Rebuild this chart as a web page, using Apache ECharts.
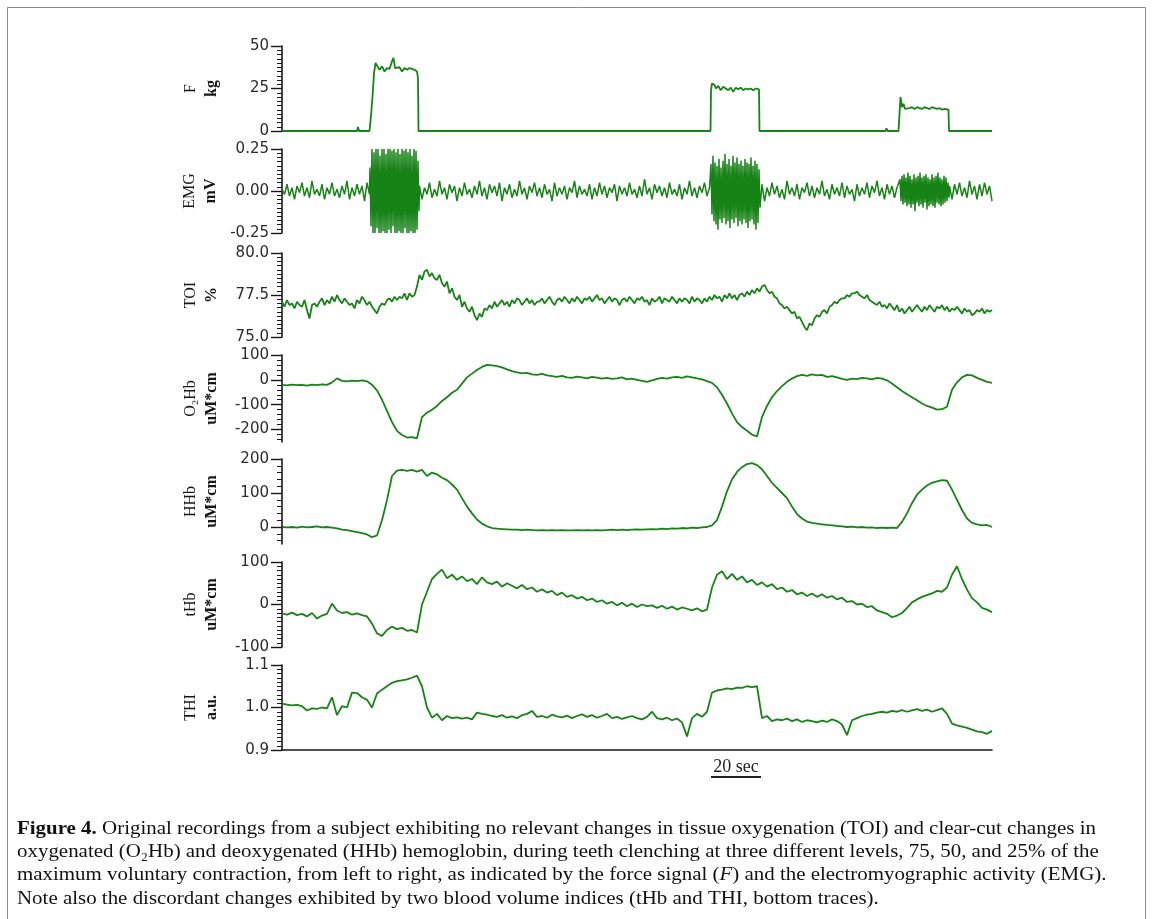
<!DOCTYPE html>
<html><head><meta charset="utf-8">
<script src="https://cdn.jsdelivr.net/npm/echarts@6/dist/echarts.min.js"></script>
<style>html,body{margin:0;padding:0;background:#fff}#c{width:1153px;height:919px}</style>
</head><body><div id="c"></div>
<script>
// ---------------- DATA ----------------
const xMax = 284; // seconds shown
const panelNames = ['F','EMG','TOI','O₂Hb','HHb','tHb','THI'];
const panelUnits = ['kg','mV','%','uM*cm','uM*cm','uM*cm','a.u.'];
const panelMins = [0,-0.25,75,-250,-50,-100,0.9];
const panelMaxs = [50,0.25,80,100,200,100,1.1];
const fTicks = [0,25,50];
const emgTicks = [-0.25,0,0.25];
const toiTicks = [75,77.5,80];
const o2hbTicks = [-200,-100,0,100];
const hhbTicks = [0,100,200];
const thbTicks = [-100,0,100];
const thiTicks = [0.9,1.0,1.1];
const tickDecimals = [0,2,1,0,0,0,1];
const minorSteps = [2.5,0.025,0.25,20,20,10,0.01];

// Force (kg): knot times (s) and values
const fTimes = [0,30.0,30.4,30.8,35.0,35.6,36.2,36.8,37.4,38.2,39,40,41,42,43,44,44.6,45.2,46,47,48,49,50,51,52,53,54.0,54.4,54.6,
  171.4,171.6,172,173,173.6,174.5,175.5,176.5,177.5,178.5,179.5,180.5,181.5,182.5,183.5,184.5,185.5,186.5,187.5,188.5,189.5,190.8,191.0,
  241.4,241.8,242.2,246.6,247.0,247.4,248,248.6,249.2,250,251,252,253,254,255,256,257,258,259,260,261,262,263,264,265,266.6,266.8,284];
const fValues = [0,0,2.4,0,0,9,20,34,40,39,36,38,35,37,36.5,41,43,37,36,37.5,35,37,36,37,36.5,36,35,31,0,
  0,24,28,27,25,26.5,24,26,25,24,25.5,23,25.5,24.5,25.5,24,25,24.5,25,24,25,24.5,0,
  0,1.5,0,0,10,20,14,16,13,14,13.5,14,13,14,13.5,13,14,13.5,13,14,13.5,13,13.5,12.5,13,12.5,0,0];

// EMG (mV): resting segments sampled every 1 s, bursts every 0.4 s
const emgRest1 = [0.01,-0.02,0.04,-0.03,0.02,-0.05,0.03,-0.01,0.05,-0.03,0.02,-0.04,0.06,-0.02,0.01,-0.03,0.04,-0.05,0.02,-0.02,
  0.05,-0.03,0.01,-0.04,0.03,-0.02,0.06,-0.05,0.02,-0.03,0.04,-0.02,0.03,-0.06,0.05,-0.02];
const emgBurst1 = [0.14,-0.21,0.25,-0.25,0.23,-0.25,0.25,-0.22,0.25,-0.25,0.21,-0.25,0.25,-0.24,0.25,-0.25,0.22,-0.25,0.25,-0.23,
  0.25,-0.25,0.24,-0.21,0.25,-0.25,0.23,-0.25,0.25,-0.24,0.22,-0.25,0.25,-0.25,0.24,-0.22,0.25,-0.25,0.23,-0.25,
  0.25,-0.24,0.21,-0.25,0.25,-0.25,0.24,-0.23,0.18,-0.12];
const emgRest2 = [0.03,-0.05,0.02,-0.02,0.05,-0.04,0.01,-0.03,0.06,-0.02,0.02,-0.05,0.04,-0.01,0.03,-0.06,0.02,-0.03,0.05,-0.02,
  0.01,-0.04,0.03,-0.02,0.06,-0.03,0.02,-0.05,0.04,-0.01,0.03,-0.03,0.05,-0.06,0.02,-0.02,0.04,-0.04,0.01,-0.03,
  0.06,-0.02,0.02,-0.05,0.03,-0.01,0.05,-0.03,0.02,-0.04,0.04,-0.02,0.01,-0.06,0.05,-0.03,0.02,-0.02,0.03,-0.05,
  0.02,-0.01,0.06,-0.04,0.03,-0.02,0.01,-0.03,0.04,-0.05,0.02,-0.03,0.05,-0.02,0.03,-0.04,0.02,-0.01,0.04,-0.06,
  0.03,-0.02,0.02,-0.03,0.05,-0.02,0.01,-0.04,0.03,-0.03,0.07,-0.02,0.02,-0.05,0.04,-0.01,0.03,-0.03,0.02,-0.04,
  0.05,-0.02,0.01,-0.03,0.04,-0.05,0.02,-0.02,0.06,-0.03,0.02,-0.04,0.03,-0.01,0.05,-0.03,0.02];
const emgBurst2 = [0.16,-0.14,0.21,-0.18,0.17,-0.2,0.15,-0.23,0.19,-0.17,0.14,-0.19,0.18,-0.16,0.22,-0.2,0.16,-0.18,0.19,-0.22,
  0.15,-0.17,0.21,-0.19,0.17,-0.16,0.2,-0.21,0.16,-0.18,0.18,-0.2,0.15,-0.17,0.19,-0.19,0.17,-0.22,0.16,-0.18,
  0.2,-0.17,0.15,-0.2,0.18,-0.23,0.16,-0.19,0.13,-0.1];
const emgRest3 = [0.04,-0.06,0.02,-0.03,0.05,-0.02,0.03,-0.04,0.01,-0.05,0.06,-0.02,0.02,-0.03,0.04,-0.05,0.02,-0.01,0.05,-0.03,
  0.03,-0.04,0.02,-0.02,0.06,-0.03,0.01,-0.05,0.04,-0.02,0.02,-0.03,0.05,-0.04,0.03,-0.02,0.01,-0.06,0.04,-0.03,
  0.02,-0.02,0.05,-0.04,0.03,-0.01,0.06,-0.03,0.02,-0.05,0.04,-0.02,0.03,-0.04,0.02];
const emgBurst3 = [0.07,-0.06,0.09,-0.08,0.1,-0.07,0.08,-0.09,0.11,-0.08,0.09,-0.1,0.07,-0.08,0.1,-0.12,0.08,-0.07,0.09,-0.09,
  0.11,-0.08,0.08,-0.1,0.09,-0.07,0.1,-0.11,0.08,-0.09,0.07,-0.08,0.1,-0.09,0.08,-0.1,0.09,-0.07,0.11,-0.08,
  0.08,-0.09,0.07,-0.08,0.09,-0.07,0.08,-0.06,0.05,-0.04];
const emgRest4 = [0.03,-0.05,0.04,-0.02,0.05,-0.03,0.02,-0.04,0.06,-0.02,0.03,-0.05,0.04,-0.03,0.05,-0.02,0.03,-0.06];

// TOI (%), one sample per second from t = 0
const toiValues = [
  77.1,76.8,77.2,76.9,77.0,76.7,77.1,76.9,76.8,77.2,76.6,76.1,76.9,77.0,76.8,77.1,77.3,76.9,77.2,77.0,
  77.4,77.1,77.5,77.2,77.0,77.3,77.1,76.9,77.0,76.7,77.2,77.0,77.4,77.2,76.9,77.1,76.8,76.6,76.4,76.8,
  77.0,76.9,77.2,77.3,77.1,77.4,77.2,77.4,77.3,77.6,77.2,77.6,77.4,77.5,78.0,78.7,78.4,78.9,79.0,78.6,
  78.8,78.5,78.4,78.7,78.2,78.0,78.3,77.6,77.9,77.4,77.2,77.5,76.8,77.1,76.7,76.5,76.8,76.3,76.0,76.4,
  76.2,76.7,76.6,76.9,76.7,77.1,76.8,77.0,77.2,76.9,77.1,76.8,77.2,77.0,77.3,77.2,76.9,77.1,77.3,77.0,
  77.2,76.9,77.1,77.1,77.3,77.0,77.2,77.4,77.1,76.9,77.2,77.3,77.1,77.4,77.2,77.0,77.3,77.1,77.4,77.2,
  77.0,77.3,77.2,77.4,77.1,77.3,77.5,77.2,77.3,77.0,77.2,77.4,77.1,77.3,77.2,76.9,77.2,77.3,77.1,77.4,
  77.2,77.0,77.3,77.2,77.4,77.1,77.2,76.9,77.3,77.1,77.2,77.4,77.0,77.3,77.2,77.1,77.4,77.2,77.0,77.3,
  77.1,77.3,77.2,77.0,77.4,77.1,77.3,77.2,77.0,77.3,77.1,77.4,77.2,77.5,77.3,77.4,77.1,77.5,77.3,77.6,
  77.3,77.5,77.2,77.5,77.6,77.4,77.7,77.5,77.8,77.6,77.9,77.7,78.0,78.1,77.8,77.6,77.7,77.4,77.3,77.0,
  76.9,76.7,76.8,76.6,76.4,76.5,76.1,76.2,75.9,75.6,75.4,75.8,75.7,76.1,76.3,76.2,76.5,76.6,76.4,76.8,
  76.9,77.1,77.0,77.2,77.3,77.3,77.5,77.4,77.6,77.6,77.7,77.5,77.4,77.3,77.5,77.2,77.1,77.0,76.9,77.1,
  76.8,76.9,76.7,77.0,76.8,76.6,76.9,76.5,76.7,76.4,76.6,76.8,76.5,76.7,76.9,76.7,76.5,76.8,76.6,76.9,
  76.7,76.5,76.8,76.7,76.9,76.6,76.8,76.5,76.7,76.6,76.8,76.6,76.4,76.7,76.5,76.6,76.3,76.4,76.6,76.5,
  76.7,76.4,76.6,76.5,76.6];

// O2Hb, HHb, tHb (uM*cm) and THI (a.u.), one sample every 2 s from t = 0
const o2hbValues = [
  -20,-22,-19,-21,-20,-23,-19,-21,-18,-20, -10,6,-4,-6,-3,-5,-2,-6,-20,-42,
  -80,-125,-170,-205,-222,-232,-230,-235,-150,-132, -120,-105,-85,-70,-52,-40,-15,10,25,40,
  52,60,58,55,50,42,35,30,26,28, 22,20,24,18,15,12,16,10,8,13,
  10,6,12,9,5,8,4,6,10,2, 5,0,-4,-8,-2,4,8,5,10,12,
  8,14,10,6,2,-5,-12,-30,-60,-95, -135,-170,-190,-205,-220,-228,-150,-105,-70,-45,
  -25,-8,5,15,20,16,22,18,20,12, 15,10,4,0,5,3,8,6,2,8,
  5,-2,-15,-30,-45,-58,-70,-82,-95,-105, -112,-120,-118,-108,-40,-10,10,20,18,8,
  0,-8,-12];
const hhbValues = [
  0,-1,0,-2,1,-1,0,2,-1,0, -2,-4,-8,-9,-12,-15,-18,-22,-30,-25,
  20,79,150,166,168,165,168,163,168,150, 160,155,145,138,125,110,85,60,40,22,
  10,2,-3,-5,-6,-7,-8,-8,-9,-8, -9,-10,-9,-10,-9,-10,-9,-10,-10,-9,
  -10,-9,-10,-9,-10,-9,-8,-9,-8,-9, -8,-7,-8,-7,-6,-7,-5,-6,-4,-5,
  -3,-4,-2,-3,-1,0,5,20,60,105, 140,162,176,185,188,182,170,150,130,115,
  100,85,60,38,25,16,12,10,8,6, 5,3,2,0,1,-1,0,-2,-1,-3,
  -2,-3,-2,-3,15,40,70,95,110,122, 130,134,138,136,110,80,50,25,12,8,
  5,6,0];
const thbValues = [
  -21,-24,-19,-25,-22,-28,-20,-33,-26,-22, 2,-14,-20,-18,-24,-21,-25,-28,-45,-68,
  -74,-60,-52,-58,-55,-62,-60,-66,0,30, 60,72,82,62,70,58,66,55,60,48,
  64,52,48,54,42,50,44,38,46,36, 40,30,36,28,32,22,28,18,22,14,
  18,10,14,6,10,2,6,-2,4,-4, 2,-6,0,-4,-2,-8,-3,-10,-5,-12,
  -7,-10,-14,-9,-16,-12,40,70,78,60, 72,58,66,52,58,46,52,42,48,36,
  40,30,34,24,28,20,26,18,24,16, 20,12,16,6,8,0,2,-6,-4,-14,
  -18,-22,-30,-26,-20,-8,5,12,18,22, 26,32,30,40,70,90,60,35,15,5,
  -8,-12,-18];
const thiValues = [
  1.009,1.007,1.005,1.006,1.003,0.993,0.998,0.997,1.0,0.998, 1.024,0.982,1.003,1.0,1.035,1.034,1.024,1.018,1.0,1.033,
  1.042,1.05,1.058,1.062,1.064,1.066,1.07,1.075,1.05,1.0, 0.976,0.985,0.97,0.98,0.975,0.977,0.974,0.976,0.972,0.988,
  0.985,0.983,0.98,0.978,0.982,0.976,0.979,0.975,0.982,0.985, 0.992,0.978,0.98,0.976,0.983,0.979,0.977,0.981,0.975,0.98,
  0.984,0.978,0.982,0.976,0.98,0.985,0.975,0.978,0.973,0.977, 0.98,0.975,0.972,0.978,0.99,0.975,0.972,0.976,0.97,0.974,
  0.965,0.932,0.975,0.985,0.978,0.99,1.035,1.04,1.042,1.045, 1.043,1.047,1.046,1.05,1.048,1.05,0.975,0.98,0.968,0.972,
  0.97,0.974,0.968,0.972,0.966,0.97,0.968,0.965,0.969,0.966, 0.972,0.968,0.96,0.935,0.97,0.975,0.98,0.983,0.985,0.988,
  0.99,0.988,0.992,0.99,0.994,0.99,0.993,0.996,0.992,0.995, 0.99,0.994,0.998,0.985,0.962,0.958,0.955,0.952,0.948,0.944,
  0.942,0.938,0.945];

const scaleBarStart = 171.6; // s
const scaleBarLength = 20;   // s
const scaleBarLabel = '20 sec';

const captionLines = [
  '{b|Figure 4.} Original recordings from a subject exhibiting no relevant changes in tissue oxygenation (TOI) and clear-cut changes in',
  'oxygenated (O₂Hb) and deoxygenated (HHb) hemoglobin, during teeth clenching at three different levels, 75, 50, and 25% of the',
  'maximum voluntary contraction, from left to right, as indicated by the force signal ({i|F}) and the electromyographic activity (EMG).',
  'Note also the discordant changes exhibited by two blood volume indices (tHb and THI, bottom traces).'
];

// ---------------- BUILD ----------------
function uniform(t0, step, vals){ return vals.map((v,i)=>[+(t0+i*step).toFixed(3), v]); }
function pairs(ts, vs){ return vs.map((v,i)=>[ts[i], v]); }

const panelTicks = [fTicks, emgTicks, toiTicks, o2hbTicks, hhbTicks, thbTicks, thiTicks];
const panelData = [
  pairs(fTimes, fValues),
  [].concat(uniform(0,1,emgRest1), uniform(35.2,0.4,emgBurst1), uniform(55,1,emgRest2),
            uniform(171.6,0.4,emgBurst2), uniform(192,1,emgRest3), uniform(247.2,0.4,emgBurst3),
            uniform(267,1,emgRest4)),
  uniform(0,1,toiValues),
  uniform(0,2,o2hbValues),
  uniform(0,2,hhbValues),
  uniform(0,2,thbValues),
  uniform(0,2,thiValues)
];

// layout
const panelTops = [46,149,253,355,459,562,665];
const panelHeights = [85,84,84,87,85,85,85];
const GREEN = '#178317';
const INK = '#161616';
const LABEL_FONT = 'DejaVu Sans';
const SERIF = 'Liberation Serif';

function minorValues(min, max, step){
  const out = [];
  const start = Math.ceil(min/step - 1e-9);
  for (let k = start; k*step <= max + 1e-9; k++) out.push(Math.round(k*step*1e6)/1e6);
  return out;
}

const grids = [], xAxes = [], yAxes = [], series = [];
for (let i = 0; i < 7; i++) {
  grids.push({left: 282, right: 161, top: panelTops[i], height: panelHeights[i]});
  xAxes.push({
    type: 'value', gridIndex: i, min: 0, max: xMax, show: i === 6,
    axisLine: {show: true, onZero: false, lineStyle: {color: INK, width: 1.6}},
    axisTick: {show: false}, axisLabel: {show: false}, splitLine: {show: false}
  });
  const dec = tickDecimals[i];
  yAxes.push({
    type: 'value', gridIndex: i, position: 'left', min: panelMins[i], max: panelMaxs[i],
    name: '{n|' + panelNames[i] + '}\n{u|' + panelUnits[i] + '}',
    nameLocation: 'middle', nameRotate: 90, nameGap: 60,
    nameTextStyle: {
      rich: {
        n: {fontFamily: SERIF, fontSize: 16, color: INK, lineHeight: 21},
        u: {fontFamily: SERIF, fontSize: 16, fontWeight: 'bold', color: INK, lineHeight: 21}
      }
    },
    axisLine: {show: true, onZero: false, lineStyle: {color: INK, width: 1.6}},
    axisTick: {show: true, customValues: panelTicks[i], length: 11, lineStyle: {color: INK, width: 1.4}},
    axisLabel: {show: true, customValues: panelTicks[i], formatter: v => Number(v).toFixed(dec),
      margin: 13, fontFamily: LABEL_FONT, fontSize: 15, color: '#2a2a2a'},
    splitLine: {show: false}
  });
  yAxes.push({
    type: 'value', gridIndex: i, position: 'left', min: panelMins[i], max: panelMaxs[i],
    axisLine: {show: false}, axisLabel: {show: false}, splitLine: {show: false},
    axisTick: {show: true, customValues: minorValues(panelMins[i], panelMaxs[i], minorSteps[i]),
      length: 5, lineStyle: {color: INK, width: 1}}
  });
  series.push({
    type: 'line', xAxisIndex: i, yAxisIndex: 2*i, data: panelData[i],
    symbol: 'none', silent: true,
    lineStyle: {color: GREEN, width: i === 1 ? 1.5 : 1.8}
  });
}

// caption scaling to match the printed line length
const meas = document.createElement('canvas').getContext('2d');
const CAP_SIZE = 19;
meas.font = 'bold ' + CAP_SIZE + 'px "' + SERIF + '"';
const wBold = meas.measureText('Figure 4.').width;
meas.font = CAP_SIZE + 'px "' + SERIF + '"';
const wRest = meas.measureText(' Original recordings from a subject exhibiting no relevant changes in tissue oxygenation (TOI) and clear-cut changes in').width;
const capScale = (1096 - 17) / (wBold + wRest);

const captionRich = {
  b: {fontFamily: SERIF, fontSize: CAP_SIZE, fontWeight: 'bold', fill: '#111'},
  i: {fontFamily: SERIF, fontSize: CAP_SIZE, fontStyle: 'italic', fill: '#111'}
};
const graphics = [
  {type: 'polyline', id: 'frame', silent: true,
   shape: {points: [[7.5, 919], [7.5, 7.5], [1145.5, 7.5], [1145.5, 919]]},
   style: {stroke: '#8a8a8a', fill: null, lineWidth: 1}}
];
captionLines.forEach((txt, k) => {
  graphics.push({
    type: 'text', id: 'cap' + k, x: 17, y: 829 + k * 23.2, scaleX: capScale, silent: true,
    style: {text: txt, rich: captionRich, fontFamily: SERIF, fontSize: CAP_SIZE, fill: '#111',
      verticalAlign: 'middle', align: 'left'}
  });
});

const chart = echarts.init(document.getElementById('c'), null, {renderer: 'canvas'});
chart.setOption({
  animation: false,
  backgroundColor: '#fff',
  grid: grids, xAxis: xAxes, yAxis: yAxes, series: series,
  graphic: graphics
});

// time scale bar drawn through the bottom x axis
const sx0 = chart.convertToPixel({xAxisIndex: 6}, scaleBarStart);
const sx1 = chart.convertToPixel({xAxisIndex: 6}, scaleBarStart + scaleBarLength);
chart.setOption({
  graphic: graphics.concat([
    {type: 'line', id: 'sbar', silent: true, shape: {x1: sx0, y1: 777, x2: sx1, y2: 777},
     style: {stroke: '#222', lineWidth: 2}},
    {type: 'text', id: 'slabel', silent: true, x: (sx0 + sx1) / 2, y: 776,
     style: {text: scaleBarLabel, fontFamily: SERIF, fontSize: 18, fill: '#222', align: 'center', verticalAlign: 'bottom'}}
  ])
});
</script>
</body></html>
